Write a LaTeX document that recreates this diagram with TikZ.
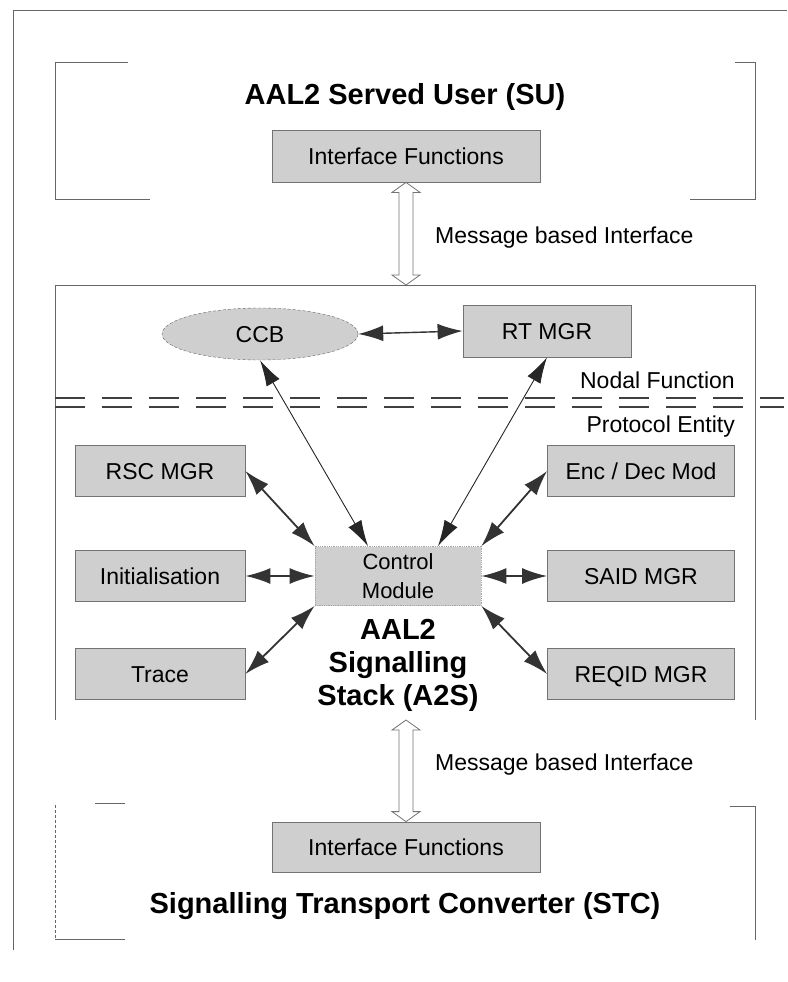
\documentclass[tikz,border=0pt]{standalone}
\usepackage{fontspec}
\setmainfont{Liberation Sans}
\usetikzlibrary{arrows.meta, calc, shapes.geometric}

\tikzset{
  blk/.style={draw=black!55, line width=0.8pt, fill=gray!38, inner sep=0pt,
    minimum width=170pt, minimum height=51pt, text height=16pt, text depth=0pt,
    font=\fontsize{23}{26}\selectfont},
  lbl/.style={font=\fontsize{23}{26}\selectfont, inner sep=0pt},
  ttl/.style={font=\bfseries\fontsize{29}{33}\selectfont, inner sep=0pt, align=center},
  frame/.style={draw=black!60, line width=1pt},
  dbl/.style={>={Latex[length=25pt,width=16pt]}, <->, line width=1.8pt, draw=black!80},
  lng/.style={>={Latex[length=26pt,width=15pt]}, <->, line width=0.9pt, draw=black!85},
  iface/.style={draw=black!55, line width=0.8pt, fill=white}
}

\begin{document}
\begin{tikzpicture}[x=1pt, y=-1pt]
  \useasboundingbox (0,0) rectangle (787,982);

  % outer frame
  \draw[frame] (13,950) -- (13,11) -- (787,11);

  % served user
  \draw[frame] (128,63) -- (55,63) -- (55,199) -- (150,199);
  \draw[frame] (735,63) -- (755,63) -- (755,199) -- (690,199);
  \node[ttl] (sutitle) at (405,97) {AAL2 Served User (SU)};
  \node[blk, minimum width=268pt, minimum height=52pt] (suif) at (406,156) {Interface Functions};

  % signalling stack
  \coordinate (a2stop) at (406,285);
  \coordinate (a2sbot) at (406,720);
  \draw[frame] (55,720) -- (55,285) -- (755,285) -- (755,720);
  \node[lbl, anchor=west] (msgup) at (435,238) {Message based Interface};

  \node[ellipse, draw=black!60, densely dashed, fill=gray!38, minimum width=196pt,
    minimum height=52pt, inner sep=0pt, text height=16pt, text depth=0pt,
    font=\fontsize{23}{26}\selectfont] (ccb) at (260,334) {CCB};
  \node[blk, minimum width=168pt, minimum height=52pt] (rtmgr) at (547,331) {RT MGR};
  \node[lbl, anchor=east] (nodal) at (735,380) {Nodal Function};
  \draw[black!75, line width=2pt, dash pattern=on 30pt off 17pt] (55,398) -- (784,398);
  \draw[black!75, line width=2pt, dash pattern=on 30pt off 17pt] (55,407) -- (784,407);
  \node[lbl, anchor=east] (proto) at (735,427) {Protocol Entity};

  \node[blk] (rscmgr) at (160,471) {RSC MGR};
  \node[blk, minimum width=187pt] (encdec) at (641,471) {Enc / Dec Mod};
  \node[blk] (init) at (160,576) {Initialisation};
  \node[blk, draw=black!35, densely dotted, minimum width=166pt, minimum height=59pt,
    text height=, text depth=, align=center, font=\fontsize{22}{29}\selectfont] (ctrl) at (398,576) {Control\\Module};
  \node[blk, minimum width=187pt] (saidmgr) at (641,576) {SAID MGR};
  \node[blk] (trace) at (160,674) {Trace};
  \node[blk, minimum width=187pt] (reqid) at (641,674) {REQID MGR};
  \node[ttl] (a2stitle) at (398,665) {AAL2\\Signalling\\Stack (A2S)};

  \draw[dbl, line width=1.4pt] (ccb.east) -- (rtmgr.west);
  \draw[lng] (ccb.south) -- ($(ctrl.north)+(-30,0)$);
  \draw[lng] (rtmgr.south) -- ($(ctrl.north)+(40,0)$);
  \draw[dbl] (rscmgr.east) -- (ctrl.north west);
  \draw[dbl] (encdec.west) -- (ctrl.north east);
  \draw[dbl] (init.east) -- (ctrl.west);
  \draw[dbl] (saidmgr.west) -- (ctrl.east);
  \draw[dbl] (trace.east) -- (ctrl.south west);
  \draw[dbl] (reqid.west) -- (ctrl.south east);

  % transport converter
  \draw[frame] (95,803) -- (125,803);
  \draw[frame, densely dashed] (55,805) -- (55,939);
  \draw[frame] (55,939) -- (125,939);
  \draw[frame] (730,806) -- (755,806) -- (755,940);
  \node[blk, minimum width=268pt, minimum height=50pt] (stcif) at (406,847) {Interface Functions};
  \node[ttl] (stctitle) at (405,906) {Signalling Transport Converter (STC)};
  \node[lbl, anchor=west] (msgdown) at (435,765) {Message based Interface};

  % interface arrows
  \draw[iface] (suif.south) -- ++(14,10) -- ++(-7,0) -- ($(a2stop)+(7,-10)$) -- ++(7,0)
    -- (a2stop) -- ++(-14,-10) -- ++(7,0) -- ($(suif.south)+(-7,10)$) -- ++(-7,0) -- cycle;
  \draw[iface] (a2sbot) -- ++(14,10) -- ++(-7,0) -- ($(stcif.north)+(7,-10)$) -- ++(7,0)
    -- (stcif.north) -- ++(-14,-10) -- ++(7,0) -- ($(a2sbot)+(-7,10)$) -- ++(-7,0) -- cycle;
\end{tikzpicture}
\end{document}
